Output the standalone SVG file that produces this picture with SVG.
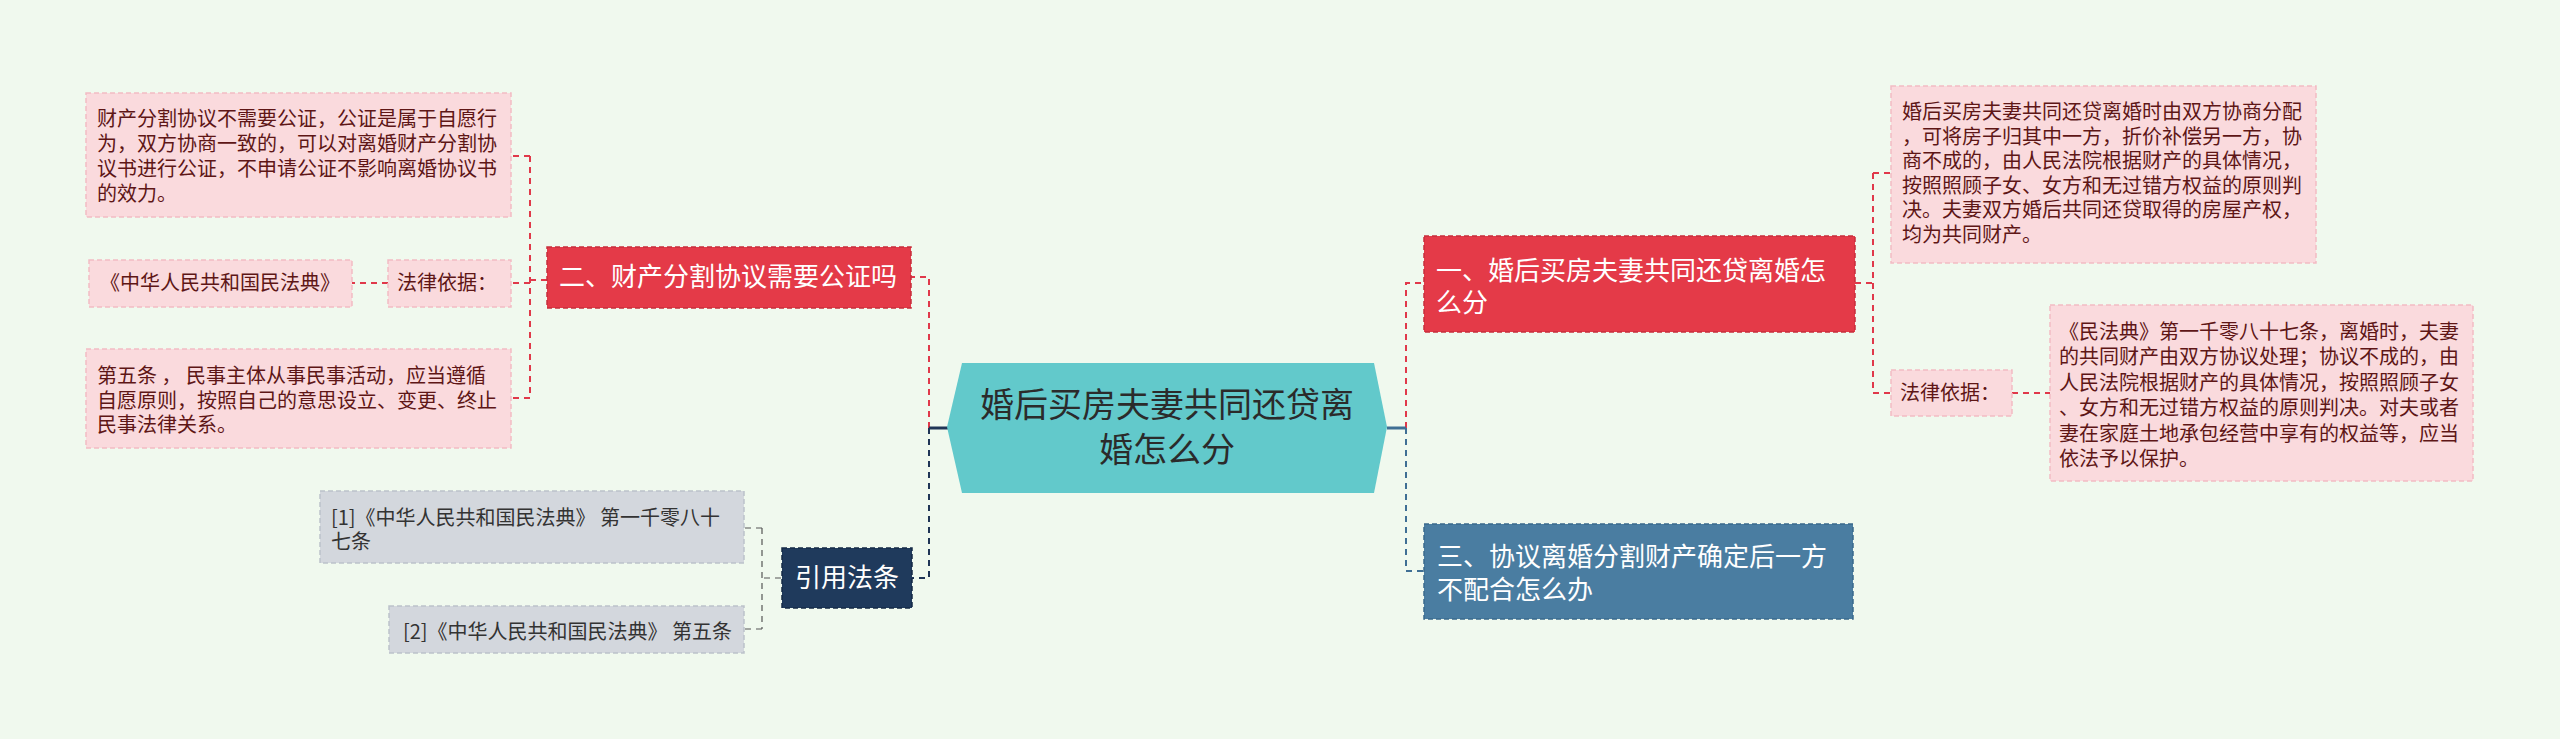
<svg xmlns="http://www.w3.org/2000/svg" width="2560" height="739" viewBox="0 0 2560 739">
<style>
text{font-family:"Noto Sans CJK SC","Liberation Sans",sans-serif;}
.leaf{fill:#fadadd;stroke:#f2bcc4;stroke-width:1.5;stroke-dasharray:5,3;}
.leaft{font-size:20px;fill:#5e1616;}
.cite{fill:#d3d7dd;stroke:#bcc2ca;stroke-width:1.5;stroke-dasharray:5,3;}
.citet{font-size:20px;fill:#333;}
.red{fill:#e43a48;stroke:#c62e3b;stroke-width:1.5;stroke-dasharray:5,3;}
.navy{fill:#1f3a5c;stroke:#152a45;stroke-width:1.5;stroke-dasharray:5,3;}
.steel{fill:#4a7da1;stroke:#3a6a8c;stroke-width:1.5;stroke-dasharray:5,3;}
.l1t{font-size:26px;fill:#fff;}
.cr{fill:none;stroke:#e0394a;stroke-width:2;stroke-dasharray:6,5;}
.cn{fill:none;stroke:#1f3556;stroke-width:2;stroke-dasharray:6,5;}
.cs{fill:none;stroke:#3f6f94;stroke-width:2;stroke-dasharray:6,5;}
.cg{fill:none;stroke:#555;stroke-width:1.2;stroke-dasharray:6,5;}
</style>
<rect width="2560" height="739" fill="#f0f9ee"/>
<g id="connectors">
<path class="cr" d="M929,428 V277 H911"/>
<path class="cn" d="M929,428 V578 H912"/>
<path d="M929,428 H948" stroke="#1f3556" stroke-width="3" fill="none"/>
<path class="cr" d="M1406,428 V283 H1424"/>
<path class="cs" d="M1406,428 V571 H1424"/>
<path d="M1387,428 H1406" stroke="#3f6f94" stroke-width="3" fill="none"/>
<path class="cr" d="M547,280 H530 M530,156 V398 M530,156 H511 M530,283 H511 M530,398 H511"/>
<path class="cr" d="M388,283 H352"/>
<path class="cr" d="M1855,283 H1873 M1873,173 V393 M1873,173 H1891 M1873,393 H1891"/>
<path class="cr" d="M2012,393 H2050"/>
<path class="cg" d="M781,578 H762 M762,528 V629 M762,528 H744 M762,629 H744"/>
</g>
<g id="center">
<polygon points="962,363 1374,363 1387,427 1374,493 962,493 947,427" fill="#62c9cb"/>
<text x="1167" y="417" font-size="34" fill="#2b2b2b" text-anchor="middle">婚后买房夫妻共同还贷离</text>
<text x="1167" y="462" font-size="34" fill="#2b2b2b" text-anchor="middle">婚怎么分</text>
</g>
<g id="n2">
<rect class="red" x="547" y="247" width="364" height="61"/>
<text class="l1t" x="559" y="286">二、财产分割协议需要公证吗</text>
</g>
<g id="n2a">
<rect class="leaf" x="86" y="93" width="425" height="124"/>
<text class="leaft" x="97" y="126">财产分割协议不需要公证，公证是属于自愿行</text>
<text class="leaft" x="97" y="151">为，双方协商一致的，可以对离婚财产分割协</text>
<text class="leaft" x="97" y="176">议书进行公证，不申请公证不影响离婚协议书</text>
<text class="leaft" x="97" y="201">的效力。</text>
</g>
<g id="n2b">
<rect class="leaf" x="388" y="260" width="123" height="47"/>
<text class="leaft" x="397" y="290" font-size="19">法律依据：</text>
</g>
<g id="n2b1">
<rect class="leaf" x="89" y="260" width="263" height="47"/>
<text class="leaft" x="220" y="290" text-anchor="middle">《中华人民共和国民法典》</text>
</g>
<g id="n2c">
<rect class="leaf" x="86" y="349" width="425" height="99"/>
<text class="leaft" x="97" y="383">第五条 ， 民事主体从事民事活动，应当遵循</text>
<text class="leaft" x="97" y="408">自愿原则，按照自己的意思设立、变更、终止</text>
<text class="leaft" x="97" y="432">民事法律关系。</text>
</g>
<g id="cite">
<rect class="navy" x="782" y="548" width="130" height="60"/>
<text class="l1t" x="847" y="587" text-anchor="middle">引用法条</text>
</g>
<g id="cite1">
<rect class="cite" x="320" y="491" width="424" height="72"/>
<text class="citet" x="331" y="525">[1]《中华人民共和国民法典》 第一千零八十</text>
<text class="citet" x="331" y="549">七条</text>
</g>
<g id="cite2">
<rect class="cite" x="389" y="606" width="355" height="47"/>
<text class="citet" x="403" y="639">[2]《中华人民共和国民法典》 第五条</text>
</g>
<g id="n1">
<rect class="red" x="1424" y="236" width="431" height="96"/>
<text class="l1t" x="1436" y="280">一、婚后买房夫妻共同还贷离婚怎</text>
<text class="l1t" x="1436" y="312">么分</text>
</g>
<g id="n1a">
<rect class="leaf" x="1891" y="86" width="425" height="177"/>
<text class="leaft" x="1902" y="119">婚后买房夫妻共同还贷离婚时由双方协商分配</text>
<text class="leaft" x="1902" y="143.5">，可将房子归其中一方，折价补偿另一方，协</text>
<text class="leaft" x="1902" y="168">商不成的，由人民法院根据财产的具体情况，</text>
<text class="leaft" x="1902" y="192.5">按照照顾子女、女方和无过错方权益的原则判</text>
<text class="leaft" x="1902" y="217">决。夫妻双方婚后共同还贷取得的房屋产权，</text>
<text class="leaft" x="1902" y="241.5">均为共同财产。</text>
</g>
<g id="n1b">
<rect class="leaf" x="1891" y="370" width="121" height="46"/>
<text class="leaft" x="1900" y="400" font-size="19">法律依据：</text>
</g>
<g id="n1b1">
<rect class="leaf" x="2050" y="305" width="423" height="176"/>
<text class="leaft" x="2059" y="339">《民法典》第一千零八十七条，离婚时，夫妻</text>
<text class="leaft" x="2059" y="364.4">的共同财产由双方协议处理；协议不成的，由</text>
<text class="leaft" x="2059" y="389.8">人民法院根据财产的具体情况，按照照顾子女</text>
<text class="leaft" x="2059" y="415.2">、女方和无过错方权益的原则判决。对夫或者</text>
<text class="leaft" x="2059" y="440.6">妻在家庭土地承包经营中享有的权益等，应当</text>
<text class="leaft" x="2059" y="466">依法予以保护。</text>
</g>
<g id="n3">
<rect class="steel" x="1424" y="524" width="429" height="95"/>
<text class="l1t" x="1437" y="566">三、协议离婚分割财产确定后一方</text>
<text class="l1t" x="1437" y="599">不配合怎么办</text>
</g>
</svg>
